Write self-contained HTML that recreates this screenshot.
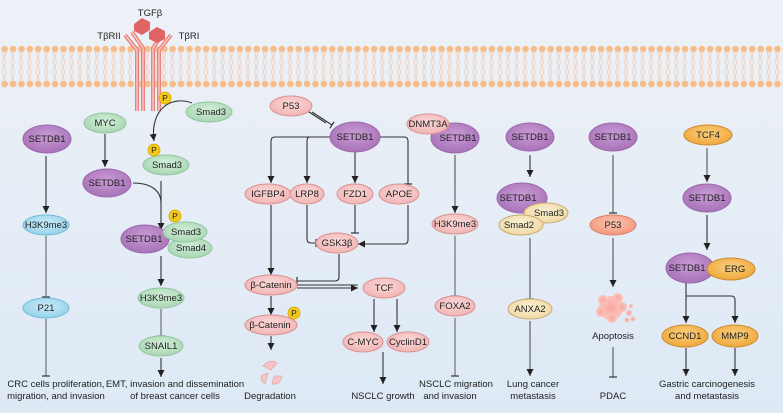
<!DOCTYPE html>
<html><head><meta charset="utf-8"><style>
html,body{margin:0;padding:0;width:783px;height:413px;overflow:hidden}
svg{display:block}
text{font-family:"Liberation Sans",sans-serif;font-size:9.5px;fill:#222}
</style></head><body>
<svg width="783" height="413" viewBox="0 0 783 413" xmlns="http://www.w3.org/2000/svg">
<defs>
<linearGradient id="bg" x1="0" y1="0" x2="0" y2="1"><stop offset="0" stop-color="#eef1f7"/><stop offset="1" stop-color="#dde9f5"/></linearGradient>
<radialGradient id="pu" cx="0.5" cy="0.4" r="0.6"><stop offset="0" stop-color="#c99bd5"/><stop offset="1" stop-color="#a872b8"/></radialGradient>
<radialGradient id="pk" cx="0.5" cy="0.4" r="0.6"><stop offset="0" stop-color="#fbd9d8"/><stop offset="1" stop-color="#f1b4b4"/></radialGradient>
<radialGradient id="gr" cx="0.5" cy="0.4" r="0.6"><stop offset="0" stop-color="#d3eed8"/><stop offset="1" stop-color="#a8d6b3"/></radialGradient>
<radialGradient id="bl" cx="0.5" cy="0.4" r="0.6"><stop offset="0" stop-color="#c9ecf8"/><stop offset="1" stop-color="#95d1ea"/></radialGradient>
<radialGradient id="be" cx="0.5" cy="0.4" r="0.6"><stop offset="0" stop-color="#fbf0d2"/><stop offset="1" stop-color="#efd9a4"/></radialGradient>
<radialGradient id="or" cx="0.5" cy="0.4" r="0.6"><stop offset="0" stop-color="#f9cf7f"/><stop offset="1" stop-color="#f0a73a"/></radialGradient>
<radialGradient id="sa" cx="0.5" cy="0.4" r="0.6"><stop offset="0" stop-color="#fbc7b2"/><stop offset="1" stop-color="#f3957a"/></radialGradient>
<radialGradient id="ap" cx="0.5" cy="0.5" r="0.5"><stop offset="0" stop-color="#f9a8a0"/><stop offset="1" stop-color="#fbc3bb"/></radialGradient>
<marker id="ar" markerUnits="userSpaceOnUse" markerWidth="8" markerHeight="8" refX="7" refY="4" orient="auto"><path d="M0,0.5 L7,4 L0,7.5 z" fill="#222"/></marker>
<marker id="ih" markerUnits="userSpaceOnUse" markerWidth="3" markerHeight="10" refX="1" refY="5" orient="auto"><path d="M1,1 L1,9" stroke="#333" stroke-width="1.2"/></marker>
<pattern id="tails" x="0" y="52" width="8.4" height="30" patternUnits="userSpaceOnUse">
<path d="M2.5,0 L4,5 L2.5,10 L4,15 M6,0 L4.5,5 L6,10 L4.5,15 M2.5,30 L4,25 L2.5,20 L4,15 M6,30 L4.5,25 L6,20 L4.5,15" fill="none" stroke="#f1c7ad" stroke-width="0.7"/>
</pattern>
<pattern id="h1" x="0.5" y="45" width="8.4" height="8" patternUnits="userSpaceOnUse"><circle cx="4.2" cy="4" r="3.3" fill="#f6bc8a"/></pattern>
<pattern id="h2" x="0.5" y="80" width="8.4" height="8" patternUnits="userSpaceOnUse"><circle cx="4.2" cy="4" r="3.3" fill="#f6bc8a"/></pattern>
</defs>
<rect width="783" height="413" fill="url(#bg)"/>
<!-- membrane -->
<rect x="0" y="52" width="783" height="30" fill="url(#tails)"/>
<rect x="0" y="45" width="783" height="8" fill="url(#h1)"/>
<rect x="0" y="80" width="783" height="8" fill="url(#h2)"/>
<!-- receptor -->
<g fill="none" stroke="#e7837f" stroke-width="4" stroke-linecap="butt">
<path d="M137,111 L137,50 L125,35"/><path d="M143,111 L143,48 L132,32"/>
<path d="M153,111 L153,48 L164,32"/><path d="M159,111 L159,50 L171,35"/>
</g>
<g fill="none" stroke="#fbd6d0" stroke-width="1.2">
<path d="M137,111 L137,50 L125,35"/><path d="M143,111 L143,48 L132,32"/>
<path d="M153,111 L153,48 L164,32"/><path d="M159,111 L159,50 L171,35"/>
</g>
<polygon points="134,24 142,18 150,22 150,30 142,35 134,31" fill="#e06464"/>
<polygon points="149,32 157,27 165,31 165,39 157,43 149,39" fill="#e06464"/>
<text x="150" y="16" text-anchor="middle">TGFβ</text>
<text x="109" y="39" text-anchor="middle">TβRII</text>
<text x="189" y="39" text-anchor="middle">TβRI</text>

<g fill="none" stroke="#333" stroke-width="1.1">
<line x1="46" y1="156" x2="46" y2="213" marker-end="url(#ar)"/>
<line x1="46" y1="236" x2="46" y2="297" marker-end="url(#ih)" stroke="#666"/>
<line x1="46" y1="319" x2="46" y2="376" marker-end="url(#ih)" stroke="#666"/>
<line x1="105" y1="134" x2="105" y2="167" marker-end="url(#ar)"/>
<path d="M192,103 C170,95 150,110 154,141" marker-end="url(#ar)"/>
<path d="M133,183 C150,183 161,190 161,203"/>
<line x1="161" y1="181" x2="161" y2="230" marker-end="url(#ar)"/>
<line x1="161" y1="256" x2="161" y2="286" marker-end="url(#ar)"/>
<line x1="161" y1="309" x2="161" y2="336" marker-end="url(#ih)" stroke="#666"/>
<line x1="161" y1="358" x2="161" y2="377" marker-end="url(#ar)"/>
<line x1="312" y1="112" x2="332" y2="125" marker-end="url(#ih)"/>
<line x1="326" y1="123" x2="306" y2="110" marker-end="url(#ih)"/>
<path d="M330,137 L275,137 Q271,137 271,141 L271,183" marker-end="url(#ar)"/>
<path d="M310,137 Q307,137 307,141 L307,183" marker-end="url(#ar)"/>
<line x1="355" y1="152" x2="355" y2="183" marker-end="url(#ar)"/>
<path d="M378,137 L404,137 Q408,137 408,141 L408,184" marker-end="url(#ih)"/>
<path d="M307,205 L307,239 Q307,243 311,243 L316,243" marker-end="url(#ih)"/>
<line x1="355" y1="205" x2="355" y2="233" marker-end="url(#ih)"/>
<path d="M408,205 L408,240 Q408,244 404,244 L358,244" marker-end="url(#ar)"/>
<line x1="271" y1="205" x2="271" y2="275" marker-end="url(#ar)"/>
<path d="M339,254 L339,277 Q339,281 335,281 L297,281" marker-end="url(#ih)"/>
<line x1="297" y1="285" x2="358" y2="285"/>
<line x1="297" y1="288" x2="358" y2="288" marker-end="url(#ar)"/>
<line x1="271" y1="296" x2="271" y2="315" marker-end="url(#ar)"/>
<line x1="271" y1="336" x2="271" y2="350" marker-end="url(#ar)"/>
<line x1="374" y1="299" x2="374" y2="332" marker-end="url(#ar)"/>
<line x1="397" y1="299" x2="397" y2="332" marker-end="url(#ar)"/>
<line x1="383" y1="352" x2="383" y2="384" marker-end="url(#ar)"/>
<line x1="455" y1="155" x2="455" y2="213" marker-end="url(#ar)" stroke="#555"/>
<line x1="455" y1="236" x2="455" y2="296" marker-end="url(#ih)" stroke="#666"/>
<line x1="455" y1="318" x2="455" y2="376" marker-end="url(#ih)" stroke="#666"/>
<line x1="530" y1="155" x2="530" y2="177" marker-end="url(#ar)"/>
<line x1="530" y1="238" x2="530" y2="299" marker-end="url(#ih)" stroke="#555"/>
<line x1="530" y1="321" x2="530" y2="376" marker-end="url(#ar)" stroke="#555"/>
<line x1="613" y1="155" x2="613" y2="213" marker-end="url(#ih)" stroke="#555"/>
<line x1="613" y1="238" x2="613" y2="287" marker-end="url(#ar)" stroke="#555"/>
<line x1="613" y1="347" x2="613" y2="377" marker-end="url(#ih)" stroke="#555"/>
<line x1="707" y1="148" x2="707" y2="182" marker-end="url(#ar)" stroke="#555"/>
<line x1="707" y1="215" x2="707" y2="250" marker-end="url(#ar)"/>
<line x1="686" y1="283" x2="686" y2="323" marker-end="url(#ar)"/>
<path d="M686,296 L731,296 Q735,296 735,300 L735,323" marker-end="url(#ar)"/>
<line x1="686" y1="348" x2="686" y2="376" marker-end="url(#ar)"/>
<line x1="735" y1="348" x2="735" y2="376" marker-end="url(#ar)"/>
</g>

<g stroke-width="1">
<ellipse cx="47" cy="139" rx="24" ry="14" fill="url(#pu)" stroke="#9a69ab"/>
<ellipse cx="46" cy="225" rx="23" ry="10" fill="url(#bl)" stroke="#74bcd6"/>
<ellipse cx="46" cy="308" rx="23" ry="10" fill="url(#bl)" stroke="#74bcd6"/>
<ellipse cx="105" cy="123" rx="21" ry="10" fill="url(#gr)" stroke="#93c6a0"/>
<ellipse cx="107" cy="183" rx="24" ry="14" fill="url(#pu)" stroke="#9a69ab"/>
<ellipse cx="209" cy="112" rx="23" ry="10" fill="url(#gr)" stroke="#93c6a0"/>
<ellipse cx="166" cy="165" rx="23" ry="10" fill="url(#gr)" stroke="#93c6a0"/>
<ellipse cx="145" cy="239" rx="24" ry="14" fill="url(#pu)" stroke="#9a69ab"/>
<ellipse cx="190" cy="248" rx="22" ry="10" fill="url(#gr)" stroke="#93c6a0"/>
<ellipse cx="185" cy="232" rx="22" ry="10" fill="url(#gr)" stroke="#93c6a0"/>
<ellipse cx="161" cy="298" rx="23" ry="10" fill="url(#gr)" stroke="#93c6a0"/>
<ellipse cx="161" cy="346" rx="22" ry="10" fill="url(#gr)" stroke="#93c6a0"/>
<ellipse cx="291" cy="106" rx="21" ry="10" fill="url(#pk)" stroke="#d99191"/>
<ellipse cx="355" cy="137" rx="25" ry="15" fill="url(#pu)" stroke="#9a69ab"/>
<ellipse cx="268" cy="194" rx="23" ry="10" fill="url(#pk)" stroke="#d99191"/>
<ellipse cx="307" cy="194" rx="17" ry="10" fill="url(#pk)" stroke="#d99191"/>
<ellipse cx="355" cy="194" rx="18" ry="10" fill="url(#pk)" stroke="#d99191"/>
<ellipse cx="399" cy="194" rx="20" ry="10" fill="url(#pk)" stroke="#d99191"/>
<ellipse cx="337" cy="243" rx="21" ry="10" fill="url(#pk)" stroke="#d99191"/>
<ellipse cx="271" cy="285" rx="26" ry="10" fill="url(#pk)" stroke="#d99191"/>
<ellipse cx="384" cy="288" rx="21" ry="10" fill="url(#pk)" stroke="#d99191"/>
<ellipse cx="271" cy="325" rx="26" ry="10" fill="url(#pk)" stroke="#d99191"/>
<ellipse cx="363" cy="342" rx="20" ry="10" fill="url(#pk)" stroke="#d99191"/>
<ellipse cx="408" cy="342" rx="21" ry="10" fill="url(#pk)" stroke="#d99191"/>
<ellipse cx="455" cy="138" rx="24" ry="15" fill="url(#pu)" stroke="#9a69ab"/>
<ellipse cx="428" cy="124" rx="21" ry="10" fill="url(#pk)" stroke="#d99191"/>
<ellipse cx="455" cy="224" rx="23" ry="10" fill="url(#pk)" stroke="#d99191"/>
<ellipse cx="455" cy="306" rx="20" ry="10" fill="url(#pk)" stroke="#d99191"/>
<ellipse cx="530" cy="137" rx="24" ry="14" fill="url(#pu)" stroke="#9a69ab"/>
<ellipse cx="522" cy="198" rx="25" ry="15" fill="url(#pu)" stroke="#9a69ab"/>
<ellipse cx="546" cy="213" rx="22" ry="10" fill="url(#be)" stroke="#c8a971"/>
<ellipse cx="521" cy="225" rx="22" ry="10" fill="url(#be)" stroke="#c8a971"/>
<ellipse cx="530" cy="309" rx="22" ry="10" fill="url(#be)" stroke="#c8a971"/>
<ellipse cx="613" cy="137" rx="24" ry="14" fill="url(#pu)" stroke="#9a69ab"/>
<ellipse cx="613" cy="225" rx="23" ry="10" fill="url(#sa)" stroke="#d8846c"/>
<ellipse cx="708" cy="135" rx="24" ry="10" fill="url(#or)" stroke="#c98b2e"/>
<ellipse cx="707" cy="198" rx="24" ry="14" fill="url(#pu)" stroke="#9a69ab"/>
<ellipse cx="690" cy="268" rx="24" ry="15" fill="url(#pu)" stroke="#9a69ab"/>
<ellipse cx="731" cy="269" rx="24" ry="11" fill="url(#or)" stroke="#c98b2e"/>
<ellipse cx="685" cy="336" rx="23" ry="11" fill="url(#or)" stroke="#c98b2e"/>
<ellipse cx="735" cy="336" rx="23" ry="11" fill="url(#or)" stroke="#c98b2e"/>
</g>
<g fill="#f5c81c" stroke="#d8a400" stroke-width="0.8">
<circle cx="165" cy="98" r="6"/><circle cx="154" cy="150" r="6"/><circle cx="175" cy="216" r="6"/><circle cx="294" cy="313" r="6"/>
</g>
<g text-anchor="middle">
<text x="165" y="101" style="font-size:8.5px">P</text><text x="154" y="153" style="font-size:8.5px">P</text><text x="175" y="219" style="font-size:8.5px">P</text><text x="294" y="316" style="font-size:8.5px">P</text>
</g>
<g fill="url(#ap)">
<circle cx="611" cy="308" r="12"/><circle cx="603" cy="300" r="5"/><circle cx="618" cy="298" r="5"/><circle cx="622" cy="307" r="5"/><circle cx="601" cy="312" r="5"/><circle cx="612" cy="318" r="5"/><circle cx="629" cy="313" r="3"/><circle cx="633" cy="319" r="2.5"/><circle cx="627" cy="320" r="2.5"/><circle cx="631" cy="306" r="2"/>
</g>
<g fill="#f6c4c4" stroke="#e0a0a0" stroke-width="0.6">
<path d="M263,366 Q270,358 277,363 L271,370 Z"/><path d="M262,375 L268,373 L265,384 Q259,380 262,375 Z"/><path d="M274,376 L282,376 Q281,385 272,384 Z"/>
</g>
<g text-anchor="middle">
<text x="47" y="142">SETDB1</text><text x="46" y="228">H3K9me3</text><text x="46" y="311">P21</text>
<text x="105" y="126">MYC</text><text x="107" y="186">SETDB1</text><text x="211" y="115">Smad3</text><text x="167" y="168">Smad3</text>
<text x="144" y="242">SETDB1</text><text x="186" y="235">Smad3</text><text x="191" y="251">Smad4</text><text x="161" y="301">H3K9me3</text><text x="161" y="349">SNAIL1</text>
<text x="291" y="109">P53</text><text x="355" y="140">SETDB1</text><text x="268" y="197">IGFBP4</text><text x="307" y="197">LRP8</text><text x="355" y="197">FZD1</text><text x="399" y="197">APOE</text>
<text x="337" y="246">GSK3β</text><text x="271" y="288">β-Catenin</text><text x="384" y="291">TCF</text><text x="270" y="328">β-Catenin</text><text x="363" y="345">C-MYC</text><text x="408" y="345">CyclinD1</text>
<text x="458" y="141">SETDB1</text><text x="428" y="127">DNMT3A</text><text x="455" y="227">H3K9me3</text><text x="455" y="309">FOXA2</text>
<text x="530" y="140">SETDB1</text><text x="518" y="201">SETDB1</text><text x="549" y="216">Smad3</text><text x="519" y="228">Smad2</text><text x="530" y="312">ANXA2</text>
<text x="613" y="140">SETDB1</text><text x="613" y="228">P53</text><text x="613" y="339">Apoptosis</text>
<text x="708" y="138">TCF4</text><text x="707" y="201">SETDB1</text><text x="687" y="271">SETDB1</text><text x="735" y="272">ERG</text><text x="685" y="339">CCND1</text><text x="735" y="339">MMP9</text>
</g>
<g text-anchor="middle">
<text x="56" y="387">CRC cells proliferation,</text><text x="56" y="399">migration, and invasion</text>
<text x="175" y="387">EMT, invasion and dissemination</text><text x="175" y="399">of breast cancer cells</text>
<text x="270" y="399">Degradation</text>
<text x="383" y="399">NSCLC growth</text>
<text x="456" y="387">NSCLC migration</text><text x="450" y="399">and invasion</text>
<text x="533" y="387">Lung cancer</text><text x="533" y="399">metastasis</text>
<text x="613" y="399">PDAC</text>
<text x="707" y="387">Gastric carcinogenesis</text><text x="707" y="399">and metastasis</text>
</g>
</svg>
</body></html>
